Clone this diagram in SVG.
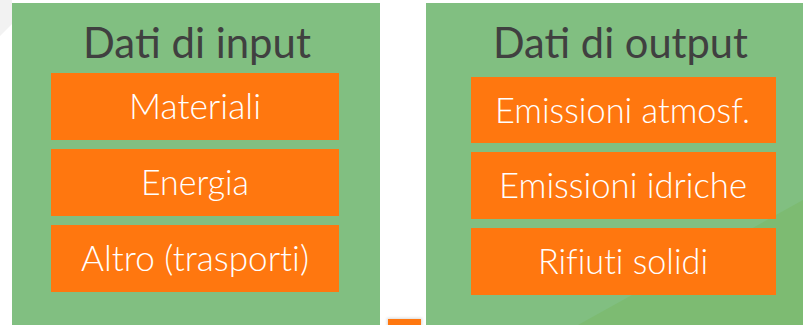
<svg xmlns="http://www.w3.org/2000/svg" width="803" height="325" viewBox="0 0 803 325">
  <style>
    .panel { fill: #81BF81; }
    .box { fill: #FF770F; }
    .title { font-family: Lato, "Open Sans", "Liberation Sans", sans-serif; font-size: 43px; fill: #404040; text-anchor: middle; }
    .label { font-family: Lato, "Open Sans", "Liberation Sans", sans-serif; font-weight: 300; font-size: 35px; fill: #FFFFFF; text-anchor: middle; font-variant-ligatures: none; }
  </style>
  <defs>
    <clipPath id="rightClip">
      <rect x="426" y="3" width="377" height="322"/>
    </clipPath>
    <filter id="soft" x="-30%" y="-30%" width="160%" height="160%">
      <feGaussianBlur stdDeviation="1.5"/>
    </filter>
  </defs>

  <rect width="803" height="325" fill="#FFFFFF"/>
  <!-- faint background sweep at the top-left corner -->
  <polygon points="0,0 12,0 12,24 0,36" fill="#F2F2F2"/>

  <!-- input panel -->
  <g id="input-panel">
    <rect class="panel" x="12" y="3" width="368" height="322"/>
    <text class="title" x="197" y="58" textLength="228" lengthAdjust="spacingAndGlyphs">Dati di input</text>
  </g>
  <g id="input-materiali">
    <rect class="box" x="51" y="73" width="288" height="67"/>
    <text class="label" x="195" y="119" textLength="132" lengthAdjust="spacingAndGlyphs">Materiali</text>
  </g>
  <g id="input-energia">
    <rect class="box" x="51" y="149" width="288" height="67"/>
    <text class="label" x="195" y="195" textLength="108" lengthAdjust="spacingAndGlyphs">Energia</text>
  </g>
  <g id="input-altro">
    <rect class="box" x="51" y="225" width="288" height="67"/>
    <text class="label" x="195" y="271" textLength="228" lengthAdjust="spacingAndGlyphs">Altro (trasporti)</text>
  </g>

  <!-- output panel -->
  <g id="output-panel">
    <rect class="panel" x="426" y="3" width="377" height="322"/>
    <polygon points="803,200 803,325 578,325" fill="#7DBB72" clip-path="url(#rightClip)"/>
    <text class="title" x="620.5" y="58" textLength="255" lengthAdjust="spacingAndGlyphs">Dati di output</text>
  </g>
  <g id="output-atmosf">
    <rect class="box" x="471" y="77" width="305" height="66"/>
    <text class="label" x="622.5" y="123" textLength="255" lengthAdjust="spacingAndGlyphs">Emissioni atmosf.</text>
  </g>
  <g id="output-idriche">
    <rect class="box" x="471" y="152" width="305" height="67"/>
    <text class="label" x="623" y="198" textLength="248" lengthAdjust="spacingAndGlyphs">Emissioni idriche</text>
  </g>
  <g id="output-rifiuti">
    <rect class="box" x="471" y="228" width="305" height="67"/>
    <text class="label" x="623" y="273.5" textLength="170" lengthAdjust="spacingAndGlyphs">Rifiuti solidi</text>
  </g>

  <!-- small marker at the bottom edge between the panels -->
  <g id="marker">
    <rect x="387" y="318" width="35" height="9" fill="#000000" opacity="0.15" filter="url(#soft)"/>
    <rect class="box" x="388" y="319" width="33" height="6"/>
  </g>

  <g id="connectors"/>
</svg>
